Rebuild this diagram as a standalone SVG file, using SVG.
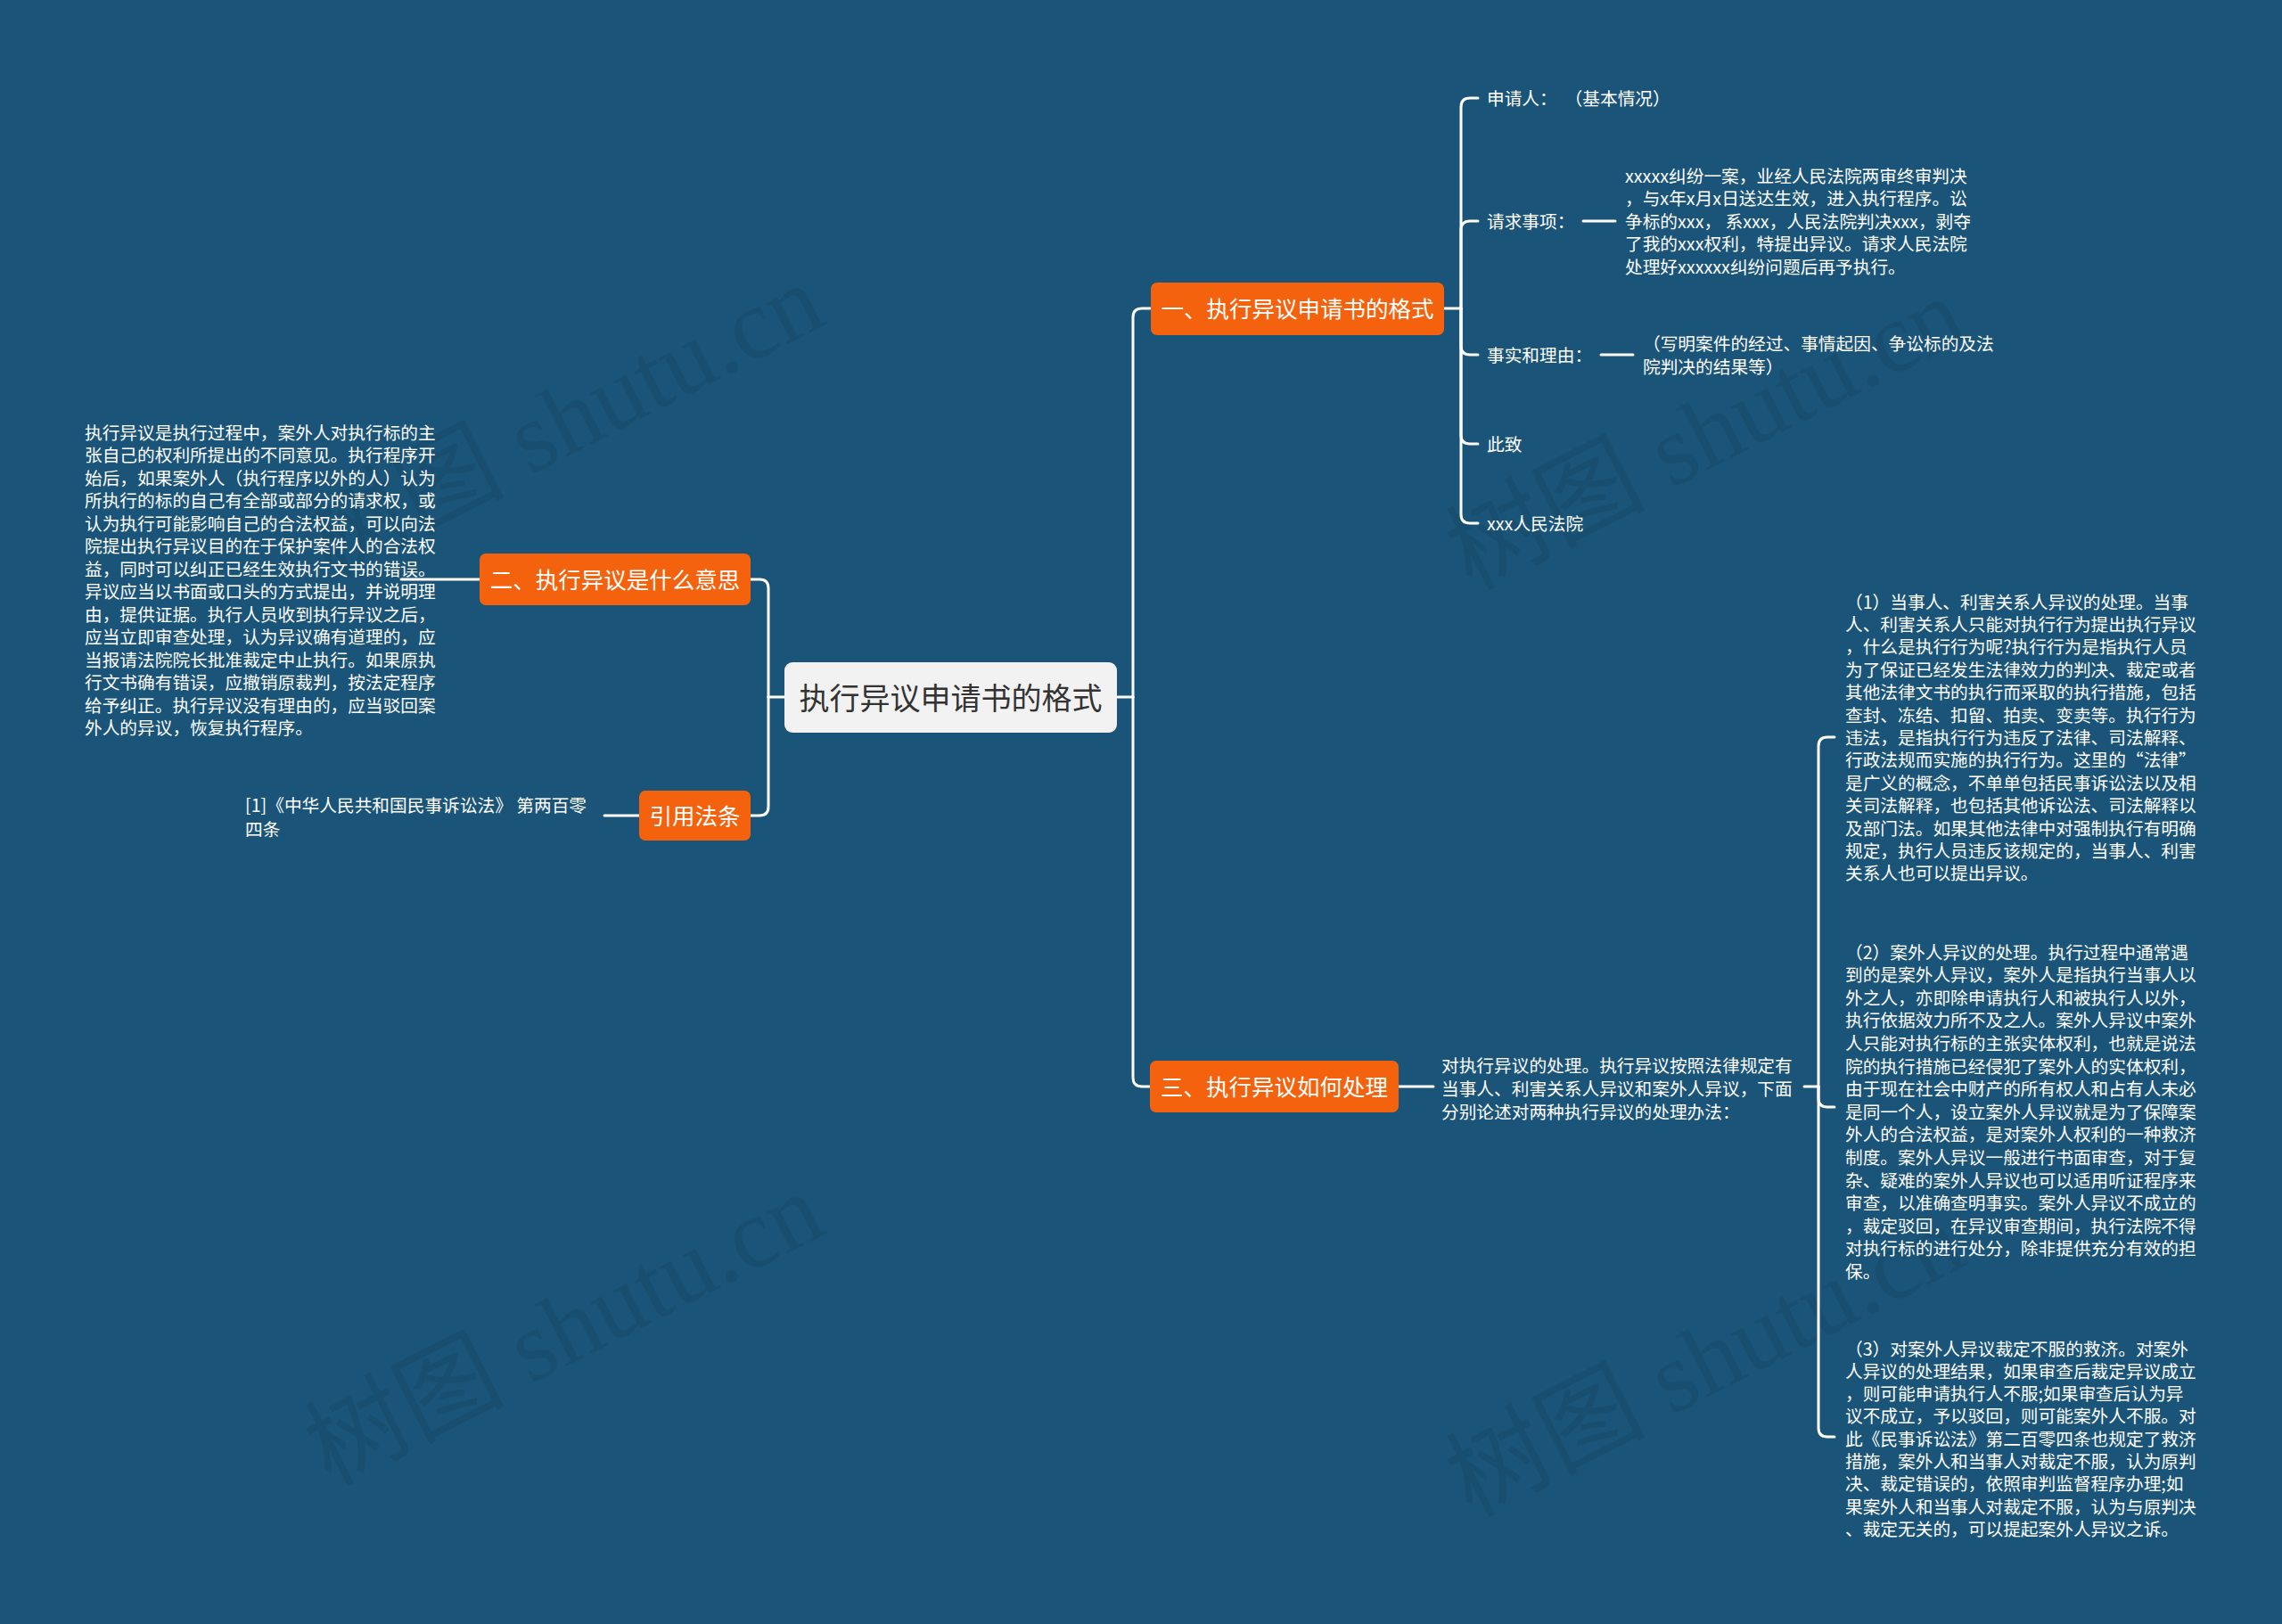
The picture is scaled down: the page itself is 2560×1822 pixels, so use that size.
<svg xmlns="http://www.w3.org/2000/svg" width="2560" height="1822" viewBox="0 0 2560 1822">
<style>
.bg{fill:#1a5478}
.wm{font-family:"Liberation Serif","Noto Sans CJK SC",serif;font-size:112px;fill:#000;fill-opacity:0.07}
.con{fill:none;stroke:#ffffff;stroke-width:3;stroke-linecap:round}
.main{fill:#f4620e}
.root{fill:#f2f2f2}
.t{font-family:"Noto Sans CJK SC","Noto Sans",sans-serif;fill:#ffffff}
.s{font-size:19.7px}
.n{font-size:25.5px;text-anchor:middle}
.r{font-size:34px;text-anchor:middle;fill:#333333}
</style>
<rect class="bg" x="0" y="0" width="2560" height="1822"/>
<g id="watermarks">
<text class="wm" transform="translate(650,505) rotate(-27)" text-anchor="middle">树图 shutu.cn</text>
<text class="wm" transform="translate(1930,520) rotate(-27)" text-anchor="middle">树图 shutu.cn</text>
<text class="wm" transform="translate(650,1525) rotate(-27)" text-anchor="middle">树图 shutu.cn</text>
<text class="wm" transform="translate(1930,1560) rotate(-27)" text-anchor="middle">树图 shutu.cn</text>
</g>
<g id="connectors">
<path class="con" d="M880 782 H862"/>
<path class="con" d="M862 782 V660 Q862 650 852 650 H842"/>
<path class="con" d="M862 782 V905 Q862 915 852 915 H842"/>
<path class="con" d="M538 650 H450"/>
<path class="con" d="M717 915 H678"/>
<path class="con" d="M1253 782 H1271"/>
<path class="con" d="M1271 782 V356 Q1271 346 1281 346 H1291"/>
<path class="con" d="M1271 782 V1209 Q1271 1219 1281 1219 H1290"/>
<path class="con" d="M1620 346 H1639"/>
<path class="con" d="M1639 346 V120 Q1639 110 1649 110 H1658"/>
<path class="con" d="M1639 346 V258 Q1639 248 1649 248 H1658"/>
<path class="con" d="M1639 346 V388 Q1639 398 1649 398 H1658"/>
<path class="con" d="M1639 346 V488 Q1639 498 1649 498 H1658"/>
<path class="con" d="M1639 346 V577 Q1639 587 1649 587 H1658"/>
<path class="con" d="M1776 248 H1812"/>
<path class="con" d="M1796 398 H1832"/>
<path class="con" d="M1569 1219 H1608"/>
<path class="con" d="M2024 1219 H2040"/>
<path class="con" d="M2040 1219 V837 Q2040 827 2050 827 H2058"/>
<path class="con" d="M2040 1219 V1232 Q2040 1242 2050 1242 H2058"/>
<path class="con" d="M2040 1219 V1602 Q2040 1612 2050 1612 H2058"/>
</g>
<g id="root">
<rect class="root" x="880" y="743" width="373" height="79" rx="9"/>
<text class="t r" x="1066.5" y="795.5">执行异议申请书的格式</text>
</g>
<g id="node-yi">
<rect class="main" x="1291" y="317" width="329" height="59" rx="7"/>
<text class="t n" x="1455.5" y="356">一、执行异议申请书的格式</text>
</g>
<g id="node-er">
<rect class="main" x="538" y="621" width="304" height="58" rx="7"/>
<text class="t n" x="690" y="659.7">二、执行异议是什么意思</text>
</g>
<g id="node-yinyong">
<rect class="main" x="717" y="887" width="125" height="56" rx="7"/>
<text class="t n" x="779.5" y="924.5">引用法条</text>
</g>
<g id="node-san">
<rect class="main" x="1290" y="1190" width="279" height="58" rx="7"/>
<text class="t n" x="1429.5" y="1228.5">三、执行异议如何处理</text>
</g>
<g id="er-text">
<text class="t s" x="95" y="492.5"><tspan x="95">执行异议是执行过程中，案外人对执行标的主</tspan><tspan x="95" dy="25.5">张自己的权利所提出的不同意见。执行程序开</tspan><tspan x="95" dy="25.5">始后，如果案外人（执行程序以外的人）认为</tspan><tspan x="95" dy="25.5">所执行的标的自己有全部或部分的请求权，或</tspan><tspan x="95" dy="25.5">认为执行可能影响自己的合法权益，可以向法</tspan><tspan x="95" dy="25.5">院提出执行异议目的在于保护案件人的合法权</tspan><tspan x="95" dy="25.5">益，同时可以纠正已经生效执行文书的错误。</tspan><tspan x="95" dy="25.5">异议应当以书面或口头的方式提出，并说明理</tspan><tspan x="95" dy="25.5">由，提供证据。执行人员收到执行异议之后，</tspan><tspan x="95" dy="25.5">应当立即审查处理，认为异议确有道理的，应</tspan><tspan x="95" dy="25.5">当报请法院院长批准裁定中止执行。如果原执</tspan><tspan x="95" dy="25.5">行文书确有错误，应撤销原裁判，按法定程序</tspan><tspan x="95" dy="25.5">给予纠正。执行异议没有理由的，应当驳回案</tspan><tspan x="95" dy="25.5">外人的异议，恢复执行程序。</tspan></text>
</g>
<g id="yinyong-text">
<text class="t s" x="275" y="910.5"><tspan x="275">[1]《中华人民共和国民事诉讼法》 第两百零</tspan><tspan x="275" dy="27">四条</tspan></text>
</g>
<g id="yi-shenqingren">
<text class="t s" x="1668" y="117.5" xml:space="preserve">申请人：  （基本情况）</text>
</g>
<g id="yi-qingqiu">
<text class="t s" x="1668" y="255.5">请求事项：</text>
</g>
<g id="yi-qingqiu-text">
<text class="t s" x="1823" y="204.5"><tspan x="1823">xxxxx纠纷一案，业经人民法院两审终审判决</tspan><tspan x="1823" dy="25.5">，与x年x月x日送达生效，进入执行程序。讼</tspan><tspan x="1823" dy="25.5">争标的xxx， 系xxx，人民法院判决xxx，剥夺</tspan><tspan x="1823" dy="25.5">了我的xxx权利，特提出异议。请求人民法院</tspan><tspan x="1823" dy="25.5">处理好xxxxxx纠纷问题后再予执行。</tspan></text>
</g>
<g id="yi-shishi">
<text class="t s" x="1668" y="405.5">事实和理由：</text>
</g>
<g id="yi-shishi-text">
<text class="t s" x="1843" y="392.5"><tspan x="1843"> （写明案件的经过、事情起因、争讼标的及法</tspan><tspan x="1843" dy="26.5">院判决的结果等）</tspan></text>
</g>
<g id="yi-cizhi">
<text class="t s" x="1668" y="505.5">此致</text>
</g>
<g id="yi-fayuan">
<text class="t s" x="1668" y="594.5">xxx人民法院</text>
</g>
<g id="san-text">
<text class="t s" x="1617" y="1202.5"><tspan x="1617">对执行异议的处理。执行异议按照法律规定有</tspan><tspan x="1617" dy="26">当事人、利害关系人异议和案外人异议，下面</tspan><tspan x="1617" dy="26">分别论述对两种执行异议的处理办法：</tspan></text>
</g>
<g id="san-1">
<text class="t s" x="2070" y="682.5"><tspan x="2070">（1）当事人、利害关系人异议的处理。当事</tspan><tspan x="2070" dy="25.4">人、利害关系人只能对执行行为提出执行异议</tspan><tspan x="2070" dy="25.4">，什么是执行行为呢?执行行为是指执行人员</tspan><tspan x="2070" dy="25.4">为了保证已经发生法律效力的判决、裁定或者</tspan><tspan x="2070" dy="25.4">其他法律文书的执行而采取的执行措施，包括</tspan><tspan x="2070" dy="25.4">查封、冻结、扣留、拍卖、变卖等。执行行为</tspan><tspan x="2070" dy="25.4">违法，是指执行行为违反了法律、司法解释、</tspan><tspan x="2070" dy="25.4">行政法规而实施的执行行为。这里的“法律”</tspan><tspan x="2070" dy="25.4">是广义的概念，不单单包括民事诉讼法以及相</tspan><tspan x="2070" dy="25.4">关司法解释，也包括其他诉讼法、司法解释以</tspan><tspan x="2070" dy="25.4">及部门法。如果其他法律中对强制执行有明确</tspan><tspan x="2070" dy="25.4">规定，执行人员违反该规定的，当事人、利害</tspan><tspan x="2070" dy="25.4">关系人也可以提出异议。</tspan></text>
</g>
<g id="san-2">
<text class="t s" x="2070" y="1075.5"><tspan x="2070">（2）案外人异议的处理。执行过程中通常遇</tspan><tspan x="2070" dy="25.6">到的是案外人异议，案外人是指执行当事人以</tspan><tspan x="2070" dy="25.6">外之人，亦即除申请执行人和被执行人以外，</tspan><tspan x="2070" dy="25.6">执行依据效力所不及之人。案外人异议中案外</tspan><tspan x="2070" dy="25.6">人只能对执行标的主张实体权利，也就是说法</tspan><tspan x="2070" dy="25.6">院的执行措施已经侵犯了案外人的实体权利，</tspan><tspan x="2070" dy="25.6">由于现在社会中财产的所有权人和占有人未必</tspan><tspan x="2070" dy="25.6">是同一个人，设立案外人异议就是为了保障案</tspan><tspan x="2070" dy="25.6">外人的合法权益，是对案外人权利的一种救济</tspan><tspan x="2070" dy="25.6">制度。案外人异议一般进行书面审查，对于复</tspan><tspan x="2070" dy="25.6">杂、疑难的案外人异议也可以适用听证程序来</tspan><tspan x="2070" dy="25.6">审查，以准确查明事实。案外人异议不成立的</tspan><tspan x="2070" dy="25.6">，裁定驳回，在异议审查期间，执行法院不得</tspan><tspan x="2070" dy="25.6">对执行标的进行处分，除非提供充分有效的担</tspan><tspan x="2070" dy="25.6">保。</tspan></text>
</g>
<g id="san-3">
<text class="t s" x="2070" y="1520.5"><tspan x="2070">（3）对案外人异议裁定不服的救济。对案外</tspan><tspan x="2070" dy="25.3">人异议的处理结果，如果审查后裁定异议成立</tspan><tspan x="2070" dy="25.3">，则可能申请执行人不服;如果审查后认为异</tspan><tspan x="2070" dy="25.3">议不成立，予以驳回，则可能案外人不服。对</tspan><tspan x="2070" dy="25.3">此《民事诉讼法》第二百零四条也规定了救济</tspan><tspan x="2070" dy="25.3">措施，案外人和当事人对裁定不服，认为原判</tspan><tspan x="2070" dy="25.3">决、裁定错误的，依照审判监督程序办理;如</tspan><tspan x="2070" dy="25.3">果案外人和当事人对裁定不服，认为与原判决</tspan><tspan x="2070" dy="25.3">、裁定无关的，可以提起案外人异议之诉。</tspan></text>
</g>
</svg>
